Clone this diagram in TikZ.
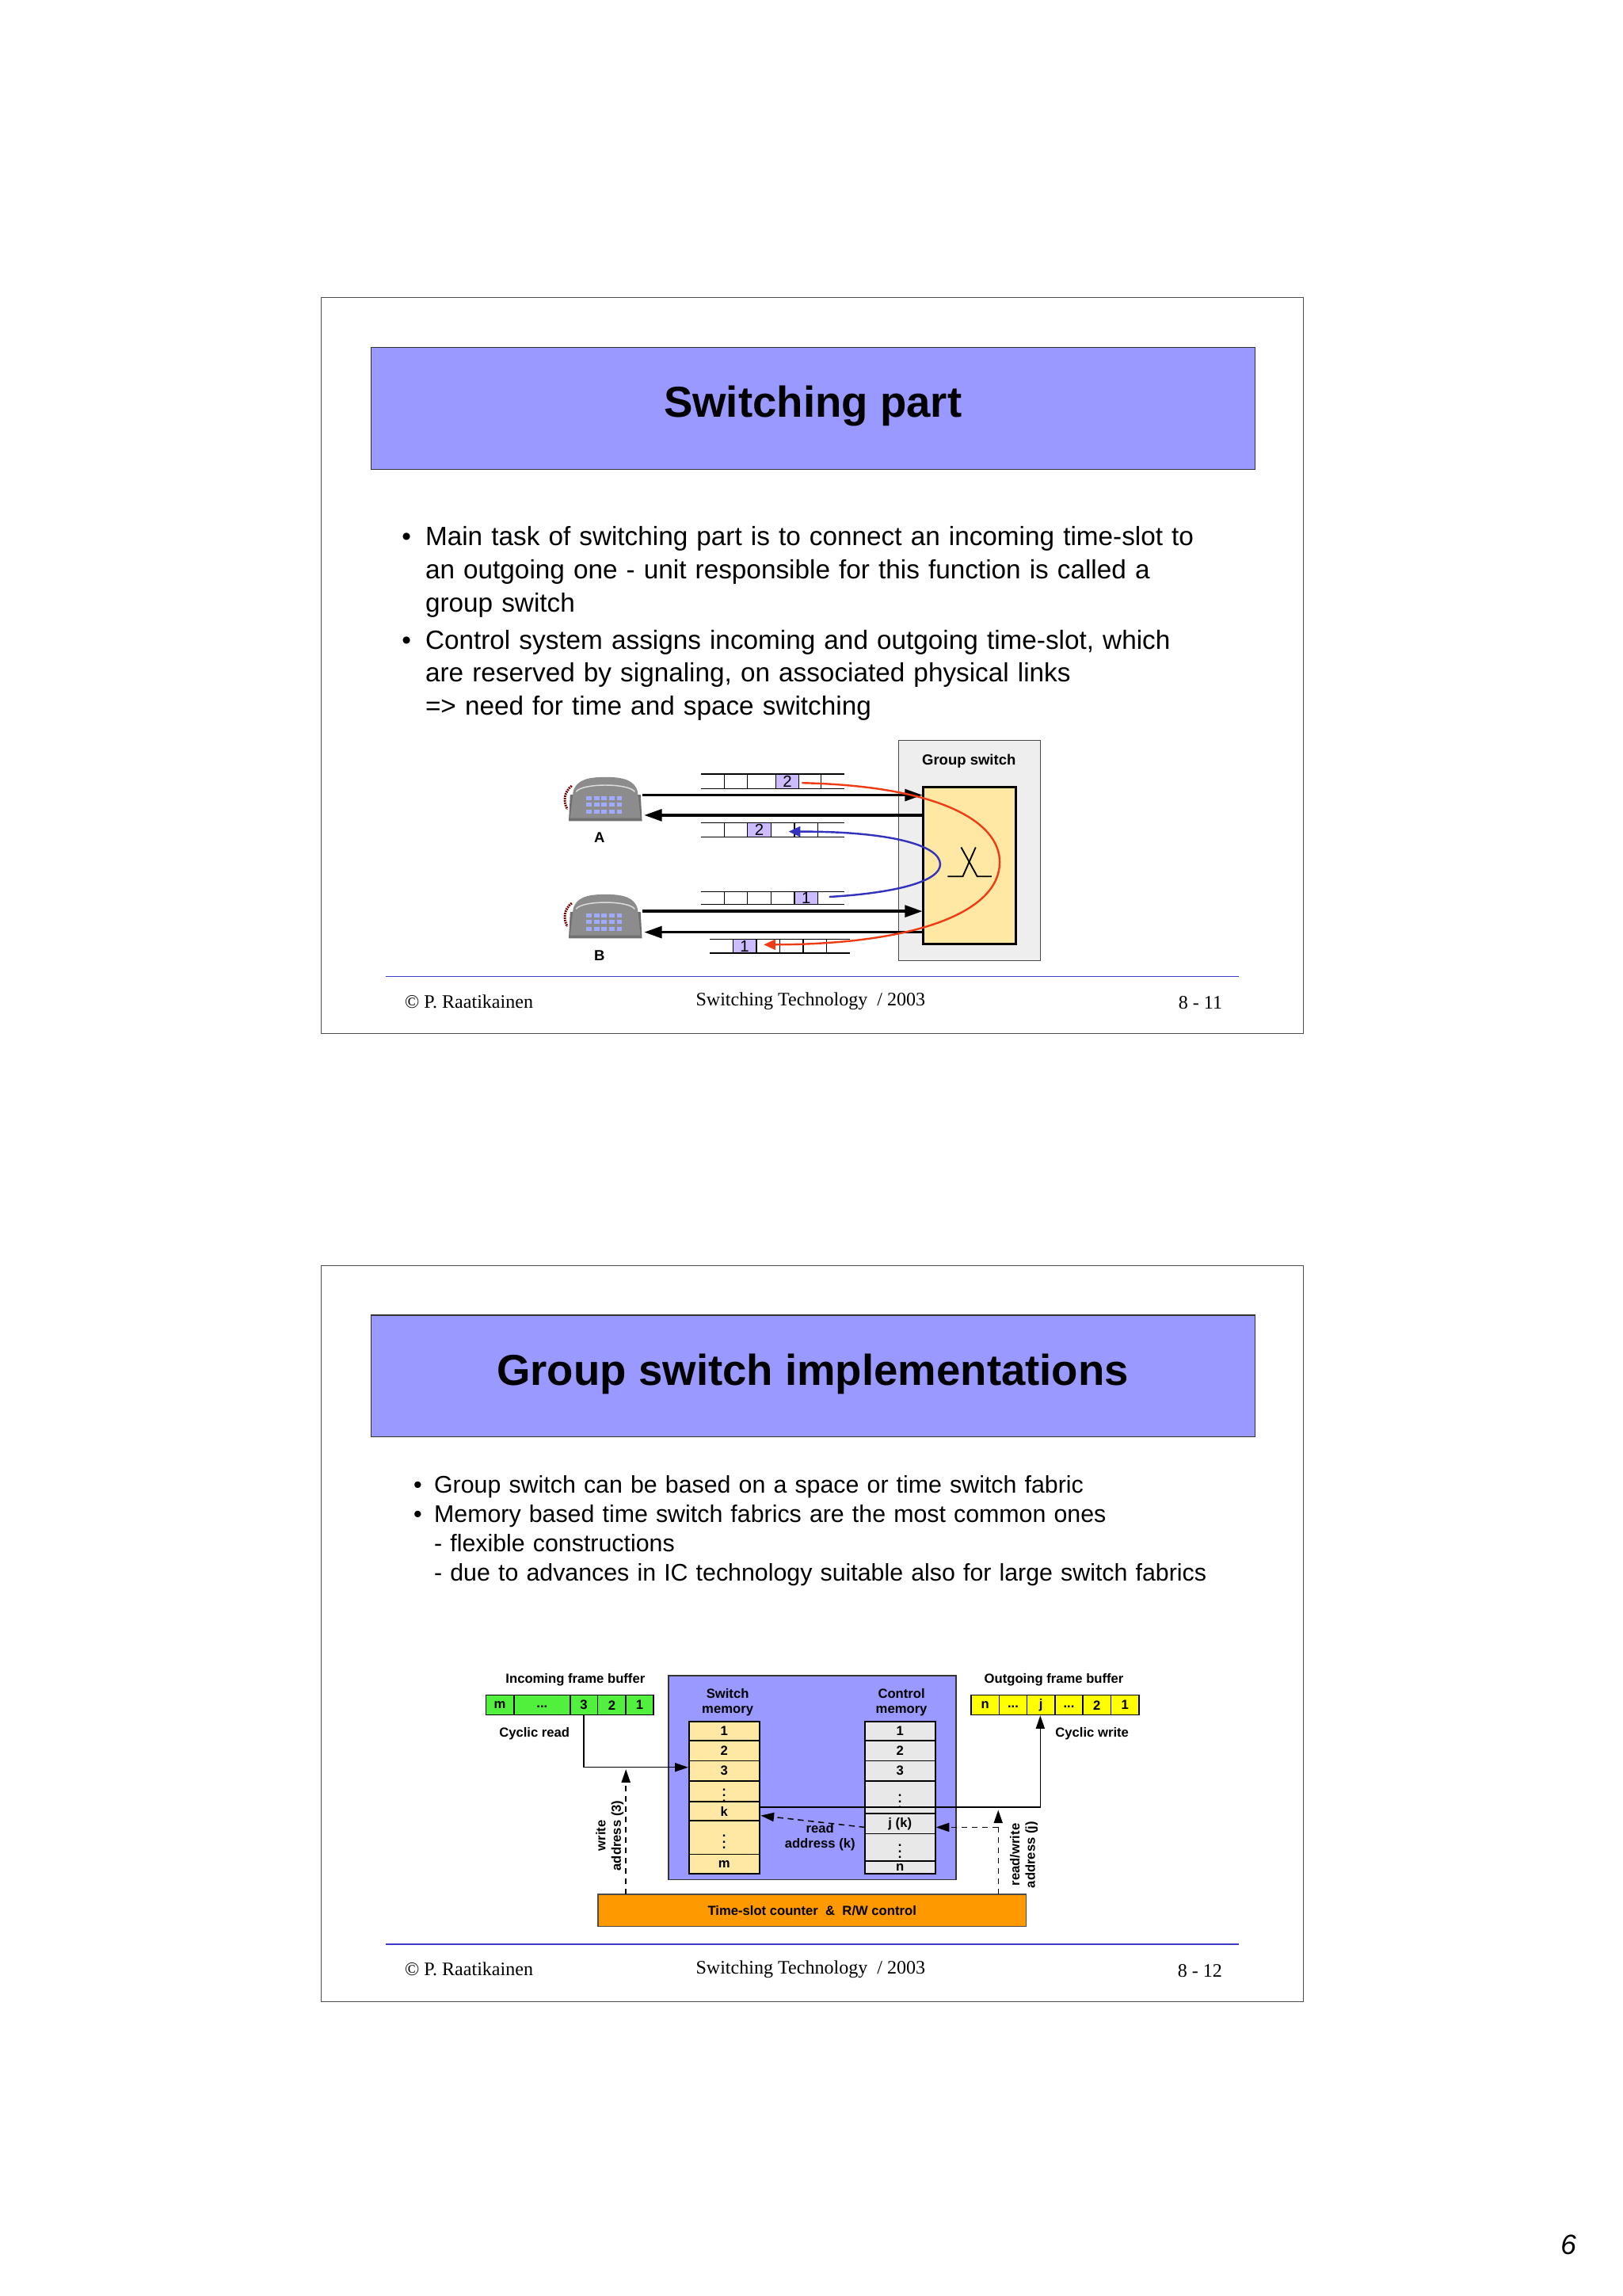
\documentclass[tikz,border=0pt]{standalone}
\usepackage{fontspec}
\setmainfont{Liberation Sans}
\newfontfamily\serifft{Liberation Serif}
\usetikzlibrary{arrows.meta}
\definecolor{ttl}{RGB}{153,153,255}
\definecolor{pale}{RGB}{255,232,164}
\definecolor{sw}{RGB}{238,238,238}
\definecolor{fline}{RGB}{60,60,200}
\definecolor{pcell}{RGB}{204,187,255}
\definecolor{redc}{RGB}{240,60,20}
\definecolor{bluec}{RGB}{50,50,190}
\definecolor{phone}{RGB}{140,140,140}
\definecolor{keyc}{RGB}{160,170,255}
\definecolor{grn}{RGB}{80,240,60}
\definecolor{ylw}{RGB}{255,255,0}
\definecolor{orng}{RGB}{255,153,0}
\definecolor{memg}{RGB}{232,232,232}
\tikzset{
  slide/.style={draw=black!70,line width=0.6pt,fill=white},
  titlebox/.style={draw=black!80,fill=ttl,line width=0.6pt},
  bigarrow/.style={line width=1.8pt,-{Triangle[length=12pt,width=8pt]}},
  lbl/.style={font=\bfseries\fontsize{9}{10}\selectfont,inner sep=0pt},
  lbl2/.style={align=center,inner sep=0pt,font=\bfseries\fontsize{9}{10.5}\selectfont},
  thin/.style={line width=0.8pt,-{Triangle[length=9pt,width=6pt]}},
  dsh/.style={line width=0.8pt,dash pattern=on 4pt off 3pt,-{Triangle[length=9pt,width=6pt]}},
  foot/.style={font=\serifft\fontsize{13}{15}\selectfont,inner sep=0pt},
}
\begin{document}
\begin{tikzpicture}[x=1pt,y=-1pt]
\useasboundingbox (0,0) rectangle (1107,1566);
\fill[white] (0,0) rectangle (1107,1566);
% ================= slide 1
\draw[slide] (219,203) rectangle (889,705);
\draw[titlebox] (253,237) rectangle (856,320);
\node[font=\bfseries\fontsize{29.5}{32}\selectfont] (t1) at (554.5,277) {Switching part};
\node[anchor=north west,align=left,inner sep=0pt,font=\fontsize{18}{22.5}\selectfont,text width=580pt] (b1) at (274,359)
 {\makebox[16pt][l]{•}Main task of switching part is to connect an incoming time-slot to\\
  \hspace*{16pt}an outgoing one - unit responsible for this function is called a\\
  \hspace*{16pt}group switch\\[3pt]
  \makebox[16pt][l]{•}Control system assigns incoming and outgoing time-slot, which\\
  \hspace*{16pt}are reserved by signaling, on associated physical links\\
  \hspace*{16pt}=> need for time and space switching};
% group switch
\node[draw=black!70,fill=sw,line width=0.6pt,minimum width=97pt,minimum height=150pt,inner sep=0pt] (gs) at (661.5,580) {};
\node[lbl,font=\bfseries\fontsize{10}{12}\selectfont] (gsl) at (661,519) {Group switch};
\node[draw=black,fill=pale,line width=1.6pt,minimum width=63pt,minimum height=107pt,inner sep=0pt] (gi) at (661.5,590.5) {};
\draw[line width=1pt] (646.5,597.8) -- (656.8,597.8) -- (665.6,577.9);
\draw[line width=1pt] (655.7,577.9) -- (666.7,597.8) -- (676.5,597.8);
% phones
\foreach \n/\yy/\l in {phA/530/A,phB/610/B}{
 \begin{scope}[shift={(385,\yy)}]
  \fill[phone!80!black] (3,30) -- (53,30) -- (52,12) -- (4,12) -- cycle;
  \fill[phone] (4,28) -- (52,28) -- (50,10) .. controls (48,2) and (40,0) .. (28,0) .. controls (16,0) and (8,2) .. (6,10) -- cycle;
  \draw[white!70!phone,line width=0.8pt] (8,10) .. controls (12,4) and (44,4) .. (48,10);
  \foreach \i in {0,...,4} \foreach \j in {0,...,2}
    \fill[keyc] (15+\i*5.2,13+\j*4.5) rectangle ++(3.6,2.8);
  \draw[red!45!black,line width=1.6pt,dash pattern=on 1pt off 0.6pt] (5,6) .. controls (0,10) and (-1,16) .. (2,22);
 \end{scope}
 \node[inner sep=0pt,minimum width=54pt,minimum height=32pt] (\n) at (412,\yy+16) {};
 \node[lbl,font=\bfseries\fontsize{10}{12}\selectfont] (\n l) at (409,\yy+41.5) {\l};
}
\coordinate (a1) at (438.4,542.3); \coordinate (a2) at (629.3,542.3);
\coordinate (a3) at (630,556); \coordinate (a4) at (439.5,556);
\coordinate (b1) at (438.4,621.5); \coordinate (b2) at (629.3,621.5);
\coordinate (b3) at (630,635.8); \coordinate (b4) at (439.5,635.8);
\draw[bigarrow] (a1) -- (a2);
\draw[bigarrow] (a3) -- (a4);
\draw[bigarrow] (b1) -- (b2);
\draw[bigarrow] (b3) -- (b4);
% strip 1
\fill[pcell] (529.4,528) rectangle (544.8,538);
\draw[line width=0.7pt] (478,528) -- (576,528) (478,538) -- (576,538);
\foreach \x in {494,510,529.4,544.8,560.2} \draw[line width=0.7pt] (\x,528) -- (\x,538);
\node[font=\fontsize{11}{11}\selectfont,inner sep=0pt] (s1) at (537.1,533) {2};
% strip 2
\fill[pcell] (510,561) rectangle (526,571);
\draw[line width=0.7pt] (478,561) -- (576,561) (478,571) -- (576,571);
\foreach \x in {494,510,526,542,558} \draw[line width=0.7pt] (\x,561) -- (\x,571);
\node[font=\fontsize{11}{11}\selectfont,inner sep=0pt] (s2) at (518,566) {2};
% strip 3
\fill[pcell] (542,608) rectangle (558,617);
\draw[line width=0.7pt] (478,608) -- (576,608) (478,617) -- (576,617);
\foreach \x in {494,510,526,542,558} \draw[line width=0.7pt] (\x,608) -- (\x,617);
\node[font=\fontsize{11}{11}\selectfont,inner sep=0pt] (s3) at (550,612.5) {1};
% strip 4
\fill[pcell] (500,640.6) rectangle (516,650);
\draw[line width=0.7pt] (484,640.6) -- (580,640.6) (484,650) -- (580,650);
\foreach \x in {500,516,532,548,564} \draw[line width=0.7pt] (\x,640.6) -- (\x,650);
\node[font=\fontsize{11}{11}\selectfont,inner sep=0pt] (s4) at (508,645.3) {1};
% curves
\draw[redc,line width=1.3pt,-{Triangle[length=8pt,width=7pt]}] (547,534) .. controls (640,536) and (682,560) .. (682,588) .. controls (682,622) and (625,644) .. (521,644.3);
\draw[bluec,line width=1.3pt,-{Triangle[length=8pt,width=7pt]}] (565.7,611.7) .. controls (612,609) and (641.4,601) .. (641.4,589.5) .. controls (641.4,576) and (605,567) .. (538,567.2);
% footer 1
\draw[fline,line width=0.8pt] (263,666) -- (845,666);
\node[foot,anchor=west] (f1a) at (276,683) {© P. Raatikainen};
\node[foot] (f1b) at (553,683) {Switching Technology~~/ 2003};
\node[foot,anchor=east] (f1c) at (834,684) {8 - 11};
% ================= slide 2
\draw[slide] (219,863) rectangle (889,1365);
\draw[titlebox] (253,897) rectangle (856,980);
\node[font=\bfseries\fontsize{29.5}{32}\selectfont] (t2) at (554.5,937) {Group switch implementations};
\node[anchor=north west,align=left,inner sep=0pt,font=\fontsize{16.4}{20}\selectfont,text width=580pt] (b2) at (282,1006)
 {\makebox[14pt][l]{•}Group switch can be based on a space or time switch fabric\\
  \makebox[14pt][l]{•}Memory based time switch fabrics are the most common ones\\
  \hspace*{14pt}- flexible constructions\\
  \hspace*{14pt}- due to advances in IC technology suitable also for large switch fabrics};
% blue box
\node[draw=black!80,fill=ttl,line width=1pt,minimum width=196pt,minimum height=139pt,inner sep=0pt] (bb) at (554,1212.5) {};
% orange
\node[draw=black!70,fill=orng,line width=0.8pt,minimum width=292pt,minimum height=22pt,inner sep=0pt,font=\bfseries\fontsize{9}{10}\selectfont] (oc) at (554,1303) {Time-slot counter~~\&~~R/W control};
% incoming buffer
\fill[grn] (331.5,1156) rectangle (445.8,1169.7);
\draw[line width=0.8pt] (331.5,1156) rectangle (445.8,1169.7);
\foreach \x in {350.6,389,407.7,427} \draw[line width=0.8pt] (\x,1156) -- (\x,1169.7);
\node[lbl] at (341,1163) {m};
\node[lbl] at (369.8,1164) {...};
\node[lbl] (in3) at (398.3,1163) {3};
\node[lbl] at (417.4,1163) {2};
\node[lbl] at (436.4,1163) {1};
\node[lbl] (inl) at (392.5,1145.5) {Incoming frame buffer};
\node[lbl] (cr) at (364.6,1182.5) {Cyclic read};
% outgoing buffer
\fill[ylw] (662.5,1156) rectangle (777,1169.7);
\draw[line width=0.8pt] (662.5,1156) rectangle (777,1169.7);
\foreach \x in {681.6,700.6,719.7,738.7,758} \draw[line width=0.8pt] (\x,1156) -- (\x,1169.7);
\node[lbl] at (672,1163) {n};
\node[lbl] at (691.1,1164) {...};
\node[lbl] (outj) at (710.1,1163) {j};
\node[lbl] at (729.2,1164) {...};
\node[lbl] at (748.3,1163) {2};
\node[lbl] at (767.5,1163) {1};
\node[lbl] (outl) at (719,1145.5) {Outgoing frame buffer};
\node[lbl] (cw) at (745,1182.5) {Cyclic write};
% memories
\node[lbl2] (smt) at (496.4,1161) {Switch\\memory};
\node[lbl2] (cmt) at (615,1161) {Control\\memory};
\foreach \a/\b/\t [count=\i] in {1174.1/1187.3/1,1187.3/1201/2,1201/1214.6/3,1214.6/1228.7/$\vdots$,1228.7/1241.9/k,1241.9/1264.7/$\vdots$,1264.7/1278/m}{
  \draw[fill=pale,line width=1pt] (470,\a) rectangle (518,\b);
  \node[lbl] (sm\i) at (494,{(\a+\b)/2}) {\t};
}
\foreach \a/\b/\t [count=\i] in {1174.1/1187.3/1,1187.3/1201/2,1201/1214.6/3,1214.6/1237/$\vdots$,1237/1250.7/j (k),1250.7/1269.1/$\vdots$,1269.1/1278/n}{
  \draw[fill=memg,line width=1pt] (590,\a) rectangle (638,\b);
  \node[lbl] (cm\i) at (614,{(\a+\b)/2}) {\t};
}
% connectors
\coordinate (c1) at (398.3,1205.4);
\draw[thin] (398.3,1169.7) -- (c1) -- (469.5,1205.4);
\coordinate (c2) at (709.7,1232.5);
\draw[thin] (518,1232.5) -- (c2) -- (709.7,1170);
\draw[dsh] (590,1246.3) -- (519,1238.3);
\node[lbl2] (ra) at (559.4,1253) {read\\address (k)};
\coordinate (d1) at (681,1246.3);
\draw[dsh] (681,1292) -- (681,1234.5);
\draw[dsh] (d1) -- (638.5,1246.3);
\draw[dsh] (427,1292) -- (427,1206.7);
\node[lbl2,rotate=90] (wa) at (416,1252) {write\\address (3)};
\node[lbl2,rotate=90] (rwa) at (698.5,1265) {read/write\\address (j)};
% footer 2
\draw[fline,line width=0.8pt] (263,1326) -- (845,1326);
\node[foot,anchor=west] (f2a) at (276,1343) {© P. Raatikainen};
\node[foot] (f2b) at (553,1343) {Switching Technology~~/ 2003};
\node[foot,anchor=east] (f2c) at (834,1344) {8 - 12};
\node[font=\itshape\fontsize{19}{20}\selectfont,inner sep=0pt] (pg) at (1070,1531) {6};
\end{tikzpicture}
\end{document}
